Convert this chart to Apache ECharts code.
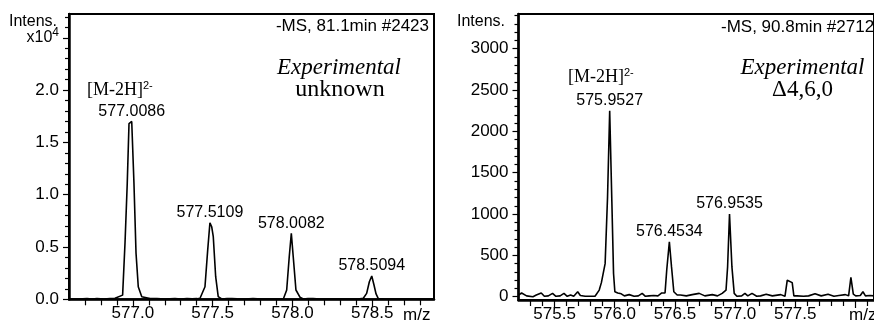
<!DOCTYPE html>
<html><head><meta charset="utf-8">
<script src="https://cdn.jsdelivr.net/npm/echarts@6/dist/echarts.min.js"></script>
<style>html,body{margin:0;padding:0;background:#fff}#c{width:874px;height:327px}</style>
</head><body><div id="c"></div>
<script>
// ---- data: left spectrum (m/z, intensity x10^4) ----
const leftSpectrum = [
[576.61,0.003],[576.66,0.002],[576.713,0.008],[576.744,0.003],[576.775,0.007],[576.82,0.002],
[576.857,0.007],[576.888,0.01],[576.899,0.025],[576.936,0.04],[576.951,0.54],[576.965,1.11],
[576.976,1.68],[576.993,1.70],[577.007,1.11],[577.020,0.44],[577.034,0.12],[577.056,0.025],
[577.064,0.012],[577.108,0.007],[577.151,0.008],[577.20,0.002],[577.264,0.007],[577.302,0.003],
[577.339,0.007],[577.371,0.004],[577.402,0.006],[577.421,0.01],[577.452,0.12],[577.469,0.47],
[577.483,0.732],[577.494,0.694],[577.504,0.598],[577.519,0.216],[577.535,0.025],[577.557,0.003],
[577.590,0.007],[577.621,0.008],[577.653,0.004],[577.703,0.002],[577.753,0.006],[577.809,0.002],
[577.859,0.003],[577.910,0.002],[577.943,0.003],[577.964,0.089],[577.980,0.407],[577.993,0.631],
[578.005,0.407],[578.022,0.089],[578.047,0.02],[578.068,0.003],[578.097,0.008],[578.129,0.006],
[578.173,0.002],[578.235,0.002],[578.298,0.003],[578.361,0.002],[578.411,0.003],[578.444,0.01],
[578.465,0.057],[578.482,0.168],[578.497,0.223],[578.511,0.137],[578.524,0.051],[578.538,0.006],
[578.580,0.002],[578.643,0.002],[578.737,0.002],[578.831,0.002],[578.88,0.002]
];
// ---- data: right spectrum (m/z, intensity) ----
const rightSpectrum = [
[575.200,20],[575.226,45],[575.267,10],[575.320,0],[575.348,20],[575.389,45],[575.415,5],[575.448,10],
[575.483,40],[575.511,5],[575.546,10],[575.578,40],[575.605,5],[575.633,20],[575.659,5],[575.692,60],
[575.714,15],[575.754,5],[575.798,5],[575.836,5],[575.871,80],[575.889,170],[575.903,150],[575.920,400],
[575.940,1200],[575.958,2250],[575.976,1150],[575.990,280],[576.001,60],[576.025,45],[576.054,35],
[576.080,10],[576.120,25],[576.161,5],[576.196,10],[576.228,40],[576.255,5],[576.285,10],[576.324,15],
[576.359,10],[576.391,45],[576.405,40],[576.418,45],[576.432,320],[576.454,665],[576.472,360],
[576.491,60],[576.507,80],[576.519,20],[576.546,20],[576.595,10],[576.644,25],[576.702,40],[576.749,10],
[576.811,25],[576.854,10],[576.893,40],[576.909,20],[576.925,80],[576.938,360],[576.954,1000],
[576.974,360],[576.993,40],[577.015,5],[577.055,10],[577.082,40],[577.106,10],[577.141,40],[577.180,5],
[577.212,10],[577.259,30],[577.310,10],[577.380,25],[577.415,5],[577.434,200],[577.448,210],[577.475,170],
[577.489,10],[577.515,10],[577.570,5],[577.611,10],[577.665,35],[577.716,10],[577.773,30],[577.822,5],
[577.863,15],[577.917,25],[577.944,10],[577.963,235],[577.983,30],[578.003,10],[578.017,5],[578.041,15],
[578.063,60],[578.084,10],[578.122,15],[578.155,10]
];
const leftPeakMz = [576.993, 577.483, 577.993, 578.497];
const leftPeakInt = [1.70, 0.732, 0.631, 0.223];
const leftPeakLabels = ['577.0086', '577.5109', '578.0082', '578.5094'];
const rightPeakMz = [575.958, 576.454, 576.954];
const rightPeakInt = [2250, 665, 1000];
const rightPeakLabels = ['575.9527', '576.4534', '576.9535'];

const leftXMajor = [577.0, 577.5, 578.0, 578.5];
const leftXMinor = [576.7,576.8,576.9,577.1,577.2,577.3,577.4,577.6,577.7,577.8,577.9,578.1,578.2,578.3,578.4,578.6,578.7,578.8];
const leftYMajor = [0, 0.5, 1.0, 1.5, 2.0, 2.5];
const leftYMinor = [0.1,0.2,0.3,0.4,0.6,0.7,0.8,0.9,1.1,1.2,1.3,1.4,1.6,1.7,1.8,1.9,2.1,2.2,2.3,2.4,2.6,2.7];
const rightXMajor = [575.5, 576.0, 576.5, 577.0, 577.5, 578.0];
const rightXLabels = [575.5, 576.0, 576.5, 577.0, 577.5];
const rightXMinor = [575.3,575.4,575.6,575.7,575.8,575.9,576.1,576.2,576.3,576.4,576.6,576.7,576.8,576.9,577.1,577.2,577.3,577.4,577.6,577.7,577.8,577.9,578.1];
const rightYMajor = [0, 500, 1000, 1500, 2000, 2500, 3000];
const rightYMinor = [100,200,300,400,600,700,800,900,1100,1200,1300,1400,1600,1700,1800,1900,2100,2200,2300,2400,2600,2700,2800,2900,3100,3200,3300,3400];

const SANS = 'Liberation Sans, Arial, sans-serif';
const SERIF = 'Liberation Serif, Times New Roman, serif';

function xAxesFor(grid, min, max, major, minor, labels) {
  const base = {type:'value', gridIndex:grid, min:min, max:max, position:'bottom', splitLine:{show:false}};
  return [
    Object.assign({}, base, {
      axisLine:{show:true, onZero:false, lineStyle:{color:'#000', width:2.5}},
      axisTick:{show:true, customValues:minor, length:6, lineStyle:{color:'#000', width:1.2}},
      axisLabel:{show:false}
    }),
    Object.assign({}, base, {
      axisLine:{show:false, onZero:false},
      axisTick:{show:true, customValues:major, length:8, lineStyle:{color:'#000', width:1.2}},
      axisLabel:{show:true, customValues:labels, margin:6, color:'#000', fontFamily:SANS, fontSize:17,
        formatter:v => v.toFixed(1)}
    })
  ];
}
function yAxesFor(grid, min, max, major, minor, fmt, rich) {
  const base = {type:'value', gridIndex:grid, min:min, max:max, position:'left', splitLine:{show:false}};
  return [
    Object.assign({}, base, {
      axisLine:{show:true, onZero:false, lineStyle:{color:'#000', width:2.5}},
      axisTick:{show:true, customValues:minor, length:4, lineStyle:{color:'#000', width:1.2}},
      axisLabel:{show:false}
    }),
    Object.assign({}, base, {
      axisLine:{show:false, onZero:false},
      axisTick:{show:true, customValues:major, length:6, lineStyle:{color:'#000', width:1.2}},
      axisLabel:{show:true, customValues:major, margin:10, color:'#000', fontFamily:SANS, fontSize:17,
        formatter:fmt, rich:rich}
    })
  ];
}

const chart = echarts.init(document.getElementById('c'), null, {renderer:'canvas'});
const peakLabel = {show:true, position:'top', distance:2, color:'#000', opacity:1, textBorderWidth:0, fontFamily:SANS, fontSize:16};

chart.setOption({
  animation:false,
  backgroundColor:'#fff',
  grid:[
    {left:69, top:14, width:365, height:285.3, show:true, borderColor:'#000', borderWidth:2, containLabel:false},
    {left:518.5, top:14, width:363.5, height:286, show:true, borderColor:'#000', borderWidth:2, containLabel:false}
  ],
  xAxis: [].concat(
    xAxesFor(0, 576.6, 578.887, leftXMajor, leftXMinor, leftXMajor),
    xAxesFor(1, 575.2, 578.155, rightXMajor, rightXMinor, rightXLabels)
  ),
  yAxis: [].concat(
    yAxesFor(0, 0, 2.7275, leftYMajor, leftYMinor,
      v => Math.abs(v - 2.5) < 1e-6 ? '{a|x10}{b|4}' : v.toFixed(1),
      {a:{fontFamily:SANS, fontSize:16, color:'#000'}, b:{fontFamily:SANS, fontSize:12, color:'#000', verticalAlign:'top', padding:[0,0,10,0]}}),
    yAxesFor(1, -40, 3420, rightYMajor, rightYMinor, v => String(v), null)
  ),
  series:[
    {type:'line', xAxisIndex:0, yAxisIndex:0, data:leftSpectrum, showSymbol:false, symbol:'none',
      lineStyle:{color:'#000', width:1.6}, clip:true, z:3},
    {type:'line', xAxisIndex:2, yAxisIndex:2, data:rightSpectrum, showSymbol:false, symbol:'none',
      lineStyle:{color:'#000', width:1.6}, clip:true, z:3},
    {type:'scatter', xAxisIndex:0, yAxisIndex:0, symbolSize:0, silent:true, itemStyle:{opacity:1, color:'#000'},
      data:leftPeakMz.map((m,i)=>[m, leftPeakInt[i]]),
      label:Object.assign({}, peakLabel, {formatter:p => leftPeakLabels[p.dataIndex]})},
    {type:'scatter', xAxisIndex:2, yAxisIndex:2, symbolSize:0, silent:true, itemStyle:{opacity:1, color:'#000'},
      data:rightPeakMz.map((m,i)=>[m, rightPeakInt[i]]),
      label:Object.assign({}, peakLabel, {formatter:p => rightPeakLabels[p.dataIndex]})}
  ],
  graphic:[
    {type:'text', left:9, top:14, style:{text:'Intens.', fontFamily:SANS, fontSize:16, fill:'#000'}},
    {type:'text', right:874-429, top:18, style:{text:'-MS, 81.1min #2423', fontFamily:SANS, fontSize:17, fill:'#000'}},
    {type:'text', x:339, y:68, style:{text:'Experimental', fontFamily:SERIF, fontStyle:'italic', fontSize:23, fill:'#000', align:'center', verticalAlign:'middle'}},
    {type:'text', x:340, y:90, style:{text:'unknown', fontFamily:SERIF, fontSize:24, fill:'#000', align:'center', verticalAlign:'middle'}},
    {type:'text', x:87, y:90, style:{text:'[M-2H]{s|2-}', fontFamily:SERIF, fontSize:18, fill:'#000', verticalAlign:'middle',
      rich:{s:{fontFamily:SANS, fontSize:11, fill:'#000', verticalAlign:'top', padding:[0,0,8,0]}}}},
    {type:'text', x:403, y:315, style:{text:'m/z', fontFamily:SANS, fontSize:17, fill:'#000', verticalAlign:'middle'}},

    {type:'text', left:457, top:14, style:{text:'Intens.', fontFamily:SANS, fontSize:16, fill:'#000'}},
    {type:'text', x:721, y:27, style:{text:'-MS, 90.8min #2712', fontFamily:SANS, fontSize:17, fill:'#000', verticalAlign:'middle'}},
    {type:'text', x:802.5, y:68, style:{text:'Experimental', fontFamily:SERIF, fontStyle:'italic', fontSize:23, fill:'#000', align:'center', verticalAlign:'middle'}},
    {type:'text', x:802.5, y:90, style:{text:'\u03944,6,0', fontFamily:SERIF, fontSize:23, fill:'#000', align:'center', verticalAlign:'middle'}},
    {type:'text', x:568, y:77, style:{text:'[M-2H]{s|2-}', fontFamily:SERIF, fontSize:18, fill:'#000', verticalAlign:'middle',
      rich:{s:{fontFamily:SANS, fontSize:11, fill:'#000', verticalAlign:'top', padding:[0,0,8,0]}}}},
    {type:'text', x:849, y:315, style:{text:'m/z', fontFamily:SANS, fontSize:17, fill:'#000', verticalAlign:'middle'}}
  ]
});
</script>
</body></html>
